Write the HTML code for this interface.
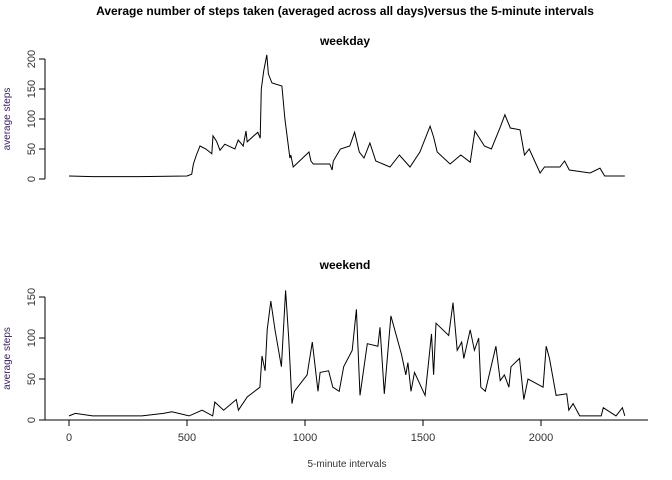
<!DOCTYPE html>
<html><head><meta charset="utf-8"><style>body{margin:0;background:#fff}svg{display:block;font-family:"Liberation Sans",Arial,sans-serif}</style></head>
<body>
<svg id="c" width="672" height="480"></svg>
<script>
const wdX=[0,100,300,500,520,527,540,555,580,605,610,625,640,660,703,717,738,750,755,800,810,815,825,838,845,860,902,915,936,940,950,1017,1025,1035,1105,1115,1120,1150,1190,1210,1230,1250,1275,1300,1360,1400,1445,1487,1530,1545,1560,1615,1660,1700,1720,1760,1790,1826,1847,1870,1911,1930,1950,1996,2015,2080,2100,2120,2208,2250,2270,2355];
const wdY=[5,4,4,5,8,25,40,55,50,42,72,63,48,58,50,65,55,80,62,78,68,150,180,207,175,160,155,100,35,40,20,45,30,25,25,15,30,50,55,78,45,35,60,30,20,40,20,45,88,70,45,25,40,28,80,55,50,85,107,85,82,40,50,10,20,20,30,15,10,18,5,5];
const weX=[0,27,100,309,400,436,509,564,609,618,655,709,718,755,809,818,831,840,855,873,900,918,931,945,955,1009,1031,1055,1064,1100,1118,1145,1164,1200,1218,1233,1264,1309,1318,1336,1364,1409,1427,1436,1449,1464,1509,1536,1545,1555,1609,1627,1645,1664,1673,1700,1718,1736,1745,1764,1809,1827,1845,1864,1873,1909,1927,1945,2009,2022,2036,2064,2109,2118,2136,2164,2255,2264,2318,2345,2355];
const weY=[5,8,5,5,8,10,5,12,5,22,12,25,12,28,40,78,60,110,145,110,65,158,100,20,35,55,95,35,58,60,40,35,65,85,135,30,93,90,113,32,127,80,55,70,35,58,30,105,55,118,103,143,85,95,75,110,85,100,40,35,90,48,55,40,65,75,25,50,40,90,75,30,32,12,20,5,5,15,5,15,5];
const wdTicks=[0,50,100,150,200];
const weTicks=[0,50,100,150];
const xTicks=[0,500,1000,1500,2000];
const NS='http://www.w3.org/2000/svg';
const svg=document.getElementById('c');
function mk(t,a,txt){const e=document.createElementNS(NS,t);for(const k in a)e.setAttribute(k,a[k]);if(txt!==undefined)e.textContent=txt;svg.appendChild(e);return e;}
const sx=v=>69+v*0.236;
function panel(xs,ys,ticks,y0,ppu,name,title,ty){
  const sy=v=>y0-v*ppu;
  let t=mk('text',{x:345,y:ty,'text-anchor':'middle','font-size':12,'font-weight':'bold'},title);
  
  let ax=mk('line',{x1:45,x2:45,y1:sy(ticks[ticks.length-1]),y2:y0,stroke:'#000'});
  
  ticks.forEach(v=>{
    let l=mk('line',{x1:39,x2:45,y1:sy(v),y2:sy(v),stroke:'#000'});
    
    let tx=mk('text',{x:35,y:sy(v),'text-anchor':'middle','font-size':11,fill:'#333',transform:`rotate(-90 35 ${sy(v)})`},String(v));
    
  });
  let yl=mk('text',{x:10,y:(y0+sy(ticks[ticks.length-1]))/2,'text-anchor':'middle','font-size':10,fill:'#3a1f66',transform:`rotate(-90 10 ${(y0+sy(ticks[ticks.length-1]))/2})`},'average steps');
  
  let d=xs.map((x,i)=>(i?'L':'M')+sx(x).toFixed(1)+','+sy(ys[i]).toFixed(1)).join('');
  let p=mk('path',{d:d,fill:'none',stroke:'#000','stroke-width':1});
  
}
let mt=mk('text',{x:345,y:15,'text-anchor':'middle','font-size':12,'font-weight':'bold'},'Average number of steps taken (averaged across all days)versus the 5-minute intervals');

panel(wdX,wdY,wdTicks,179,0.6,'weekday','weekday',45);
panel(weX,weY,weTicks,420,0.82,'weekend','weekend',269);
let xa=mk('line',{x1:45,x2:648,y1:420,y2:420,stroke:'#000'});

xTicks.forEach(v=>{
  let l=mk('line',{x1:sx(v),x2:sx(v),y1:420,y2:426,stroke:'#000'});
  
  let t=mk('text',{x:sx(v),y:441,'text-anchor':'middle','font-size':11,fill:'#333'},String(v));
  
});
let xl=mk('text',{x:347,y:467,'text-anchor':'middle','font-size':10,fill:'#333'},'5-minute intervals');

</script>
</body></html>
